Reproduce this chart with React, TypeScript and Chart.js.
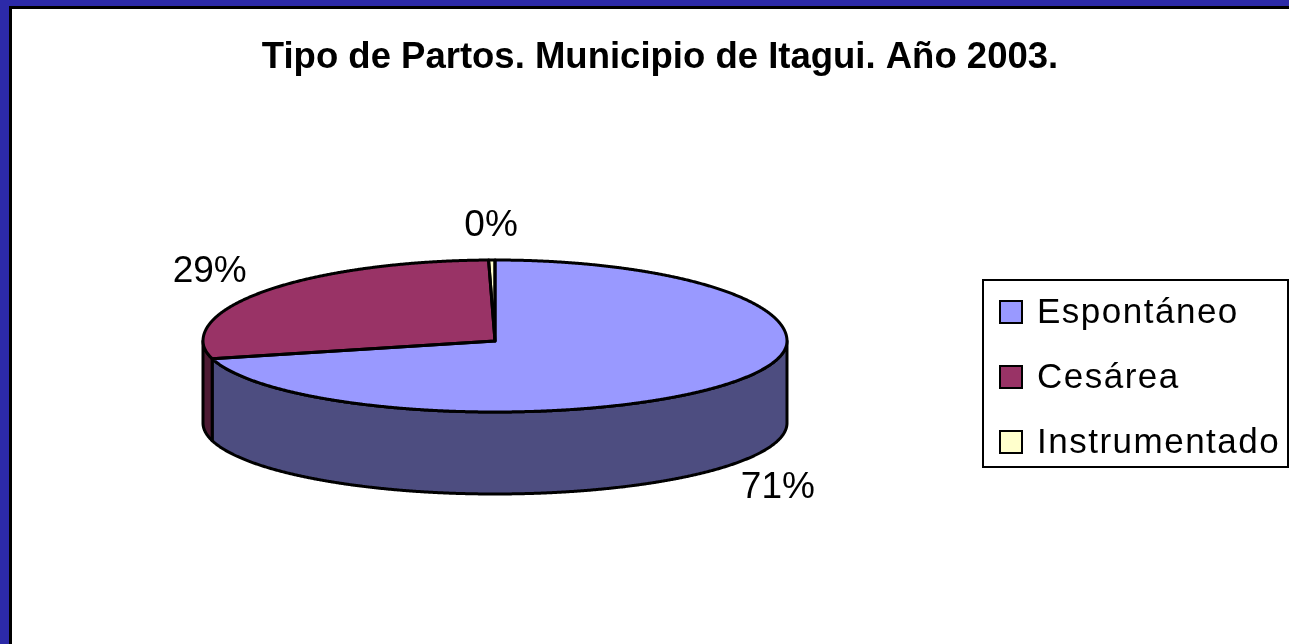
import React, { useEffect, useRef } from "react";
import { Chart, registerables } from "chart.js";

Chart.register(...registerables);

// ---- data ----
const TITLE = "Tipo de Partos. Municipio de Itagui. Año 2003.";
const categories = ["Espontáneo", "Cesárea", "Instrumentado"];
const values = [71.0, 28.65, 0.35];
const topColors = ["#9999FF", "#993366", "#FFFFCC"];
const sideColors = ["#4D4D80", "#4D1A33", "#80806A"];

// ---- styling / geometry ----
const FONT = "'Liberation Sans', Arial, Helvetica, sans-serif";
const W = 1277;
const H = 635;
const G = { cx: 483, cy: 332, rx: 292, ryBack: 81, ryFront: 71, depth: 82 };
const LABEL_OFF = { x: 66, y: 34 };
const LEGEND = { x: 971, y: 271, w: 305, h: 187, boxX: 988, box: 22, firstY: 303, step: 65, textX: 1025 };

function ryFor(t: number) {
  return Math.sin(t) >= 0 ? G.ryFront : G.ryBack;
}
function pt(t: number, dy = 0): [number, number] {
  return [G.cx + G.rx * Math.cos(t), G.cy + ryFor(t) * Math.sin(t) + dy];
}
function traceArc(ctx: CanvasRenderingContext2D, a: number, b: number, dy: number, first: boolean) {
  const n = Math.max(2, Math.ceil(Math.abs(b - a) / 0.004));
  for (let i = 0; i <= n; i++) {
    const t = a + ((b - a) * i) / n;
    const [x, y] = pt(t, dy);
    if (i === 0 && first) ctx.moveTo(x, y);
    else ctx.lineTo(x, y);
  }
}

const pie3d = {
  id: "pie3d",
  beforeDatasetsDraw(chart: any) {
    const ctx: CanvasRenderingContext2D = chart.ctx;
    const meta = chart.getDatasetMeta(0);
    const els = meta.data as any[];
    ctx.save();
    ctx.lineJoin = "round";
    ctx.lineWidth = 3;
    ctx.strokeStyle = "#000";

    // side walls (front half only)
    els.forEach((el, i) => {
      const a = Math.max(el.startAngle, 0);
      const b = Math.min(el.endAngle, Math.PI);
      if (b > a) {
        ctx.beginPath();
        traceArc(ctx, a, b, 0, true);
        traceArc(ctx, b, a, G.depth, false);
        ctx.closePath();
        ctx.fillStyle = sideColors[i];
        ctx.fill();
        ctx.stroke();
      }
    });

    // top faces drawn by chart.js arc elements, projected to an ellipse
    const passes = [
      { ry: G.ryBack, clip: [0, 0, W, G.cy + 1] },
      { ry: G.ryFront, clip: [0, G.cy, W, H - G.cy] },
    ];
    for (const p of passes) {
      ctx.save();
      ctx.beginPath();
      ctx.rect(p.clip[0], p.clip[1], p.clip[2], p.clip[3]);
      ctx.clip();
      for (const el of els) {
        ctx.save();
        ctx.translate(G.cx, G.cy);
        ctx.scale(G.rx / el.outerRadius, p.ry / el.outerRadius);
        ctx.translate(-el.x, -el.y);
        el.draw(ctx);
        ctx.restore();
      }
      ctx.restore();
    }

    // outlines of top faces
    els.forEach((el) => {
      ctx.beginPath();
      ctx.moveTo(G.cx, G.cy);
      traceArc(ctx, el.startAngle, el.endAngle, 0, false);
      ctx.closePath();
      ctx.stroke();
    });

    // percentage labels
    const total = values.reduce((s, v) => s + v, 0);
    ctx.fillStyle = "#000";
    ctx.font = `37px ${FONT}`;
    ctx.textAlign = "center";
    ctx.textBaseline = "middle";
    els.forEach((el, i) => {
      const m = (el.startAngle + el.endAngle) / 2;
      const s = Math.sin(m);
      const x = G.cx + (G.rx + LABEL_OFF.x) * Math.cos(m);
      const y = G.cy + (ryFor(m) + LABEL_OFF.y) * s + (s > 0 ? G.depth : 0);
      ctx.fillText(Math.round((values[i] / total) * 100) + "%", x, y);
    });
    ctx.restore();
    return false;
  },
  afterDraw(chart: any) {
    const ctx: CanvasRenderingContext2D = chart.ctx;
    ctx.save();
    ctx.lineWidth = 2;
    ctx.strokeStyle = "#000";
    ctx.strokeRect(LEGEND.x, LEGEND.y, LEGEND.w, LEGEND.h);
    ctx.font = `35px ${FONT}`;
    (ctx as any).letterSpacing = "1.5px";
    ctx.textAlign = "left";
    ctx.textBaseline = "middle";
    categories.forEach((c, i) => {
      const cy = LEGEND.firstY + i * LEGEND.step;
      ctx.fillStyle = topColors[i];
      ctx.fillRect(LEGEND.boxX, cy - LEGEND.box / 2, LEGEND.box, LEGEND.box);
      ctx.strokeRect(LEGEND.boxX, cy - LEGEND.box / 2, LEGEND.box, LEGEND.box);
      ctx.fillStyle = "#000";
      ctx.fillText(c, LEGEND.textX, cy + 1);
    });
    ctx.restore();
  },
};

export default function App() {
  const ref = useRef<HTMLCanvasElement>(null);
  useEffect(() => {
    const chart = new Chart(ref.current as HTMLCanvasElement, {
      type: "pie",
      data: {
        labels: categories,
        datasets: [
          {
            data: values,
            backgroundColor: topColors,
            borderWidth: 0,
            clip: false as any,
          },
        ],
      },
      options: {
        responsive: false,
        animation: false,
        devicePixelRatio: 1,
        layout: { padding: { left: 19 } },
        plugins: {
          legend: { display: false },
          tooltip: { enabled: false },
          title: {
            display: true,
            text: TITLE,
            color: "#000",
            font: { family: FONT, size: 36.5, weight: "bold" },
            padding: { top: 27, bottom: 20 },
          },
        },
      },
      plugins: [pie3d],
    } as any);
    return () => chart.destroy();
  }, []);

  return (
    <div
      style={{
        position: "fixed",
        left: 0,
        top: 0,
        width: 1289,
        height: 644,
        background: "#2C2AA8",
        overflow: "hidden",
      }}
    >
      <div
        style={{
          position: "absolute",
          left: 9,
          top: 6,
          width: 1280,
          height: 638,
          borderLeft: "3px solid #000",
          borderTop: "3px solid #000",
          background: "#fff",
          boxSizing: "border-box",
        }}
      />
      <canvas
        ref={ref}
        width={W}
        height={H}
        style={{ position: "absolute", left: 12, top: 9, width: W, height: H }}
      />
    </div>
  );
}
